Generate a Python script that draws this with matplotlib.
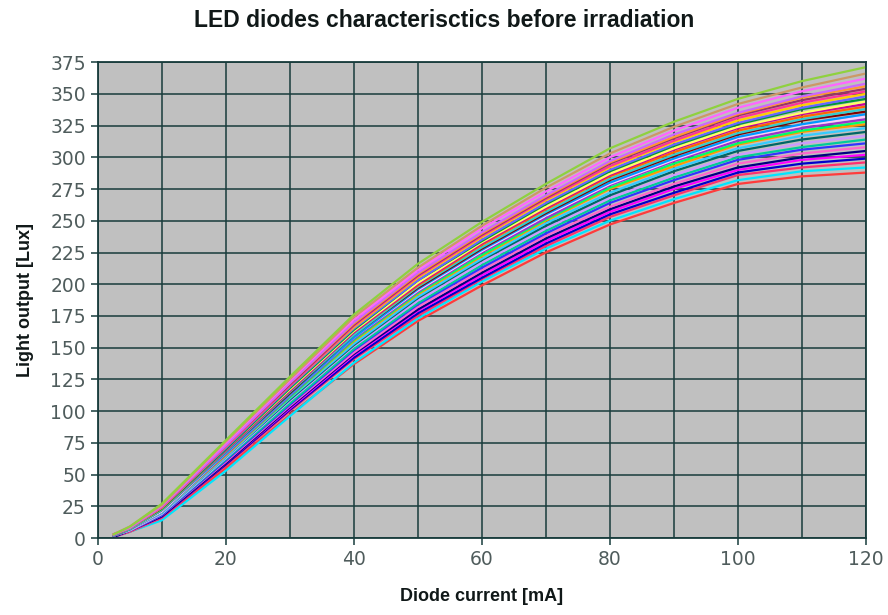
import matplotlib
matplotlib.use("Agg")
import matplotlib.pyplot as plt

# ---------------------------------------------------------------
# LED light output vs diode current, one curve per diode
# ---------------------------------------------------------------
current_ma = [2.5, 5, 10, 20, 30, 40, 50, 60, 70, 80, 90, 100, 110, 120]

curves = [
    [1, 5, 15, 55, 97, 137, 171, 199, 225, 247, 264, 279, 285, 288],
    [1, 5, 14, 53, 96, 138, 173, 202, 228, 250, 267, 282, 289, 292],
    [1, 5, 16, 57, 100, 141, 175, 204, 230, 253, 270, 286, 292, 296],
    [1, 6, 17, 58, 101, 142, 177, 205, 232, 255, 272, 288, 295, 299],
    [1, 6, 17, 59, 102, 144, 179, 207, 234, 257, 275, 290, 298, 302],
    [1, 6, 17, 59, 103, 145, 180, 209, 236, 259, 277, 292, 300, 305],
    [2, 6, 18, 60, 104, 146, 182, 211, 238, 261, 279, 295, 303, 308],
    [2, 6, 18, 61, 105, 148, 184, 213, 240, 264, 282, 298, 306, 311],
    [2, 6, 19, 62, 106, 149, 185, 215, 242, 266, 284, 300, 308, 314],
    [2, 6, 19, 63, 108, 151, 187, 217, 244, 268, 286, 302, 311, 317],
    [2, 7, 20, 64, 109, 152, 189, 219, 246, 270, 289, 305, 314, 320],
    [2, 7, 20, 64, 110, 153, 190, 220, 248, 272, 291, 307, 317, 323],
    [2, 7, 21, 65, 111, 155, 192, 222, 250, 275, 293, 310, 320, 326],
    [2, 7, 21, 66, 111, 156, 193, 223, 251, 276, 295, 311, 321, 328],
    [2, 7, 21, 66, 112, 157, 194, 225, 252, 278, 297, 313, 323, 330],
    [2, 7, 21, 67, 113, 158, 195, 226, 254, 279, 298, 315, 325, 332],
    [2, 7, 22, 67, 113, 158, 196, 227, 255, 280, 299, 316, 326, 334],
    [2, 7, 22, 68, 114, 160, 197, 228, 256, 282, 301, 318, 329, 336],
    [2, 7, 22, 68, 115, 160, 198, 229, 257, 283, 302, 319, 330, 338],
    [2, 8, 23, 69, 116, 162, 199, 231, 259, 285, 304, 321, 332, 340],
    [2, 8, 23, 69, 116, 162, 200, 232, 260, 286, 306, 323, 334, 342],
    [2, 8, 23, 70, 117, 163, 201, 233, 261, 287, 307, 324, 335, 344],
    [2, 8, 23, 70, 118, 164, 203, 234, 263, 289, 309, 326, 338, 346],
    [2, 8, 24, 71, 119, 165, 203, 235, 264, 290, 310, 327, 339, 348],
    [3, 8, 24, 72, 120, 166, 205, 237, 266, 292, 312, 329, 341, 350],
    [3, 8, 24, 72, 120, 167, 206, 238, 267, 293, 313, 331, 343, 352],
    [3, 8, 25, 73, 121, 168, 207, 239, 268, 295, 315, 333, 345, 354],
    [3, 8, 25, 73, 122, 169, 208, 240, 269, 296, 316, 334, 347, 356],
    [3, 8, 25, 73, 122, 170, 209, 241, 270, 297, 318, 335, 348, 358],
    [3, 9, 26, 75, 124, 172, 211, 244, 273, 300, 321, 339, 352, 362],
    [3, 9, 26, 76, 125, 174, 213, 246, 276, 303, 324, 342, 355, 366],
    [3, 9, 27, 77, 127, 176, 216, 249, 279, 307, 328, 346, 360, 371],
]

colors = ['#ff3b3b', '#00e5ff', '#ff2f6e', '#0000cc', '#ff00ff', '#000080',
          '#ff66cc', '#3333ff', '#00cc99', '#cc99ff', '#006666', '#33ccff',
          '#ff9900', '#00ff66', '#9933cc', '#ffccff', '#0099ff', '#800000',
          '#33cccc', '#ff6600', '#cc0099', '#ffff66', '#009933', '#6666ff',
          '#ffcc00', '#ff3399', '#993366', '#ff9933', '#cc66ff', '#ff66ff',
          '#cc9966', '#8fd13f']

x_ticks = [0, 20, 40, 60, 80, 100, 120]
y_ticks = list(range(0, 376, 25))

grid_col = '#183c3c'
tick_col = '#4f5c5c'

fig = plt.figure(figsize=(8.88, 6.15), dpi=100)
ax = fig.add_axes([0.110, 0.125, 0.865, 0.774])
ax.set_facecolor('#c0c0c0')

for vals, c in zip(curves, colors):
    ax.plot(current_ma, vals, color=c, linewidth=1.6)

ax.set_xlim(0, 120)
ax.set_ylim(0, 375)
ax.set_xticks(x_ticks)
ax.set_xticks(range(0, 121, 10), minor=True)
ax.set_yticks(y_ticks)
ax.grid(True, which='both', color=grid_col, linewidth=1.1)
ax.set_axisbelow(True)
ax.tick_params(which='minor', length=0)
ax.tick_params(which='major', length=5, color=grid_col, labelcolor=tick_col,
               labelsize=13.5, width=1.1)
for s in ax.spines.values():
    s.set_color(grid_col)
    s.set_linewidth(1.3)

fig.suptitle("LED diodes characterisctics before irradiation",
             fontsize=16.5, fontweight='bold', family='Liberation Sans',
             y=0.985, color='#101818')
ax.set_xlabel("Diode current [mA]", fontsize=13, fontweight='bold',
              family='Liberation Sans', color='#101818', labelpad=14)
ax.set_ylabel("Light output [Lux]", fontsize=13, fontweight='bold',
              family='Liberation Sans', color='#101818', labelpad=12)

fig.savefig("out.png", dpi=100)
